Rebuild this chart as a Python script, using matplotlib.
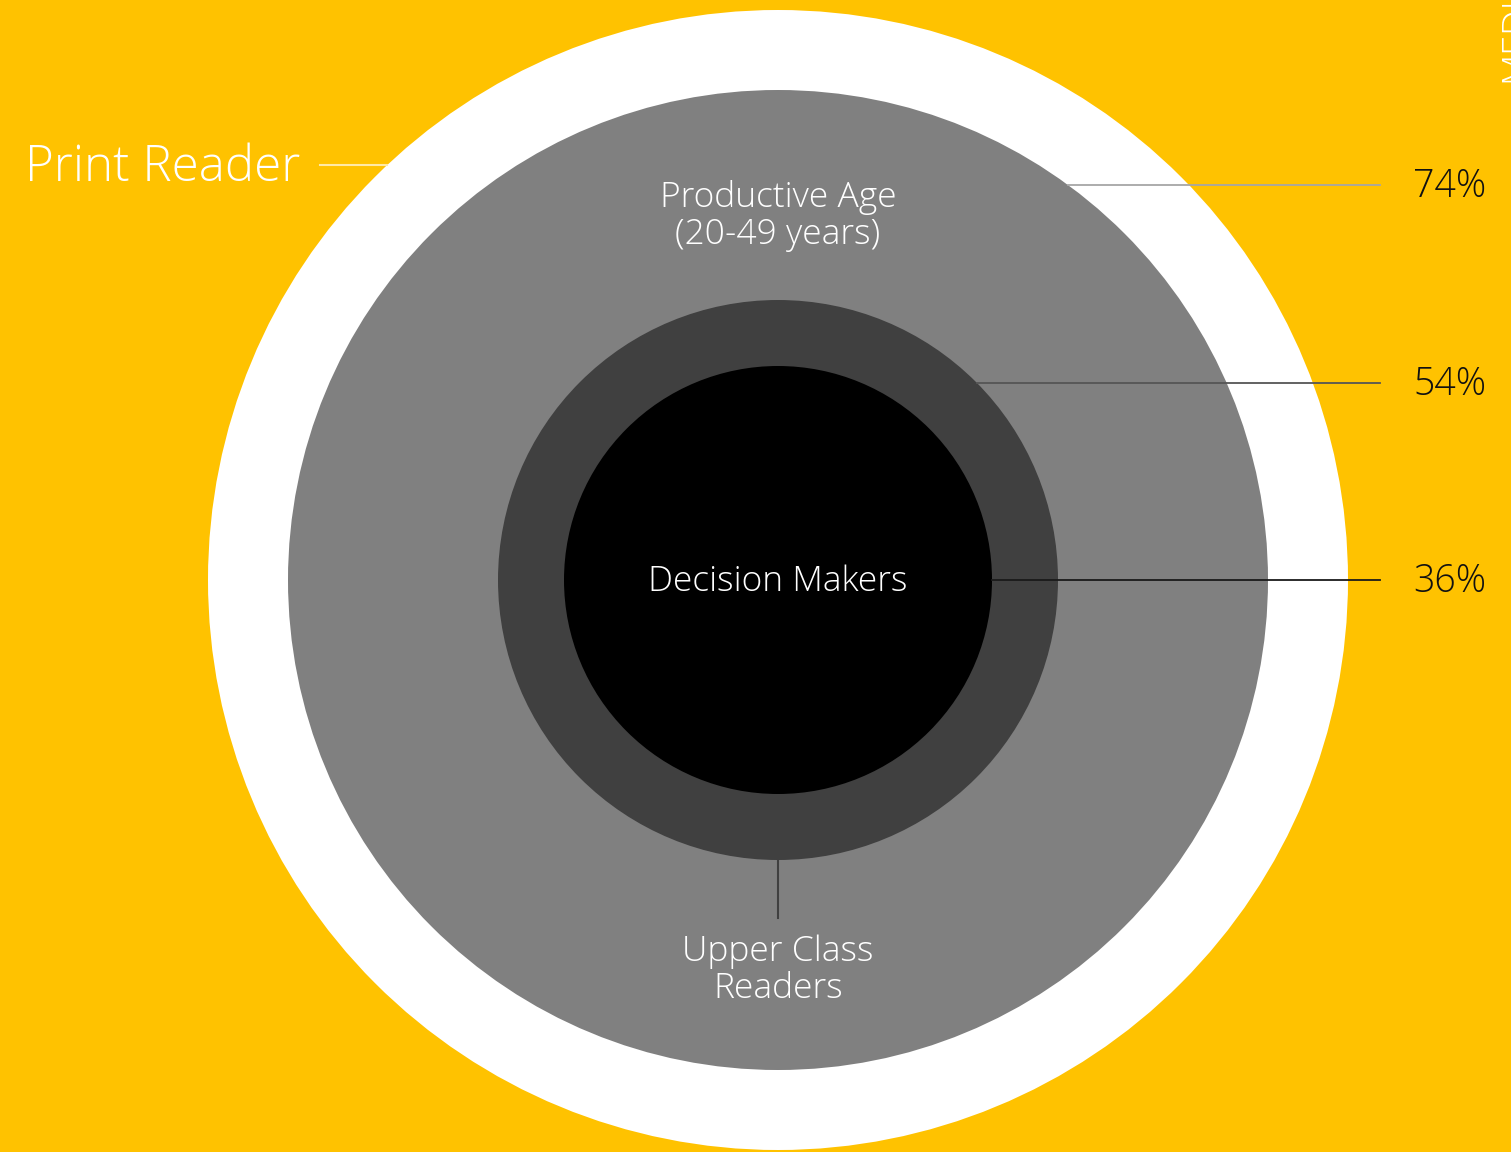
import matplotlib.pyplot as plt
from matplotlib.patches import Circle

# nested reader segments, outermost first
segments = ['Print Reader', 'Productive Age\n(20-49 years)', 'Upper Class\nReaders', 'Decision Makers']
radii = [570, 490, 280, 214]
fills = ['#FFFFFF', '#808080', '#404040', '#000000']

# share of print readers for the three inner segments
shares = [74, 54, 36]
share_rows = [185, 383, 580]
share_line_colors = ['#A6A6A6', '#555555', '#1A1A1A']

BG = '#FFC200'
cx, cy = 778, 580

plt.rcParams['font.family'] = ['Open Sans', 'DejaVu Sans']

fig = plt.figure(figsize=(15.11, 11.52), dpi=100, facecolor=BG)
ax = fig.add_axes([0, 0, 1, 1])
ax.set_xlim(0, 1511)
ax.set_ylim(1152, 0)
ax.set_aspect('equal')
ax.axis('off')

for r, c in zip(radii, fills):
    ax.add_patch(Circle((cx, cy), r, facecolor=c, edgecolor='none', zorder=1))

# leader lines to the percentages, starting at the edge of each circle
for i, (pct, y, lc) in enumerate(zip(shares, share_rows, share_line_colors)):
    r = radii[i + 1]
    dy = abs(y - cy)
    x0 = cx + (r ** 2 - dy ** 2) ** 0.5 if dy < r else cx
    ax.plot([x0, 1380], [y, y], color=lc, lw=1.3, zorder=3)
    ax.text(1413, y + 2, f'{pct}%', color='#111111', fontsize=27, fontweight='light',
            ha='left', va='center', zorder=4)

# outer label
dy = cy - 165
ax.plot([320, cx - (radii[0] ** 2 - dy ** 2) ** 0.5], [165, 165],
        color='#FFE9A6', lw=1.5, zorder=3)
ax.text(25, 168, segments[0], color='white', fontsize=35.5, fontweight='light',
        ha='left', va='center', zorder=4)

ax.text(cx, 216, segments[1], color='white', fontsize=25.5, fontweight='light',
        ha='center', va='center', linespacing=1.1, zorder=4)

ax.plot([cx, cx], [cy + radii[2], 918], color='#404040', lw=1.5, zorder=3)
ax.text(cx, 970, segments[2], color='white', fontsize=25.5, fontweight='light',
        ha='center', va='center', linespacing=1.1, zorder=4)

ax.text(cx, cy + 2, segments[3], color='white', fontsize=25.5, fontweight='light',
        ha='center', va='center', zorder=4)

# page header running down the right edge
ax.text(1497, 82, 'MEDIA', color='white', fontsize=26, fontweight='light',
        rotation=90, ha='left', va='bottom', zorder=4, clip_on=False)

fig.savefig('out.png', dpi=100, facecolor=BG)
